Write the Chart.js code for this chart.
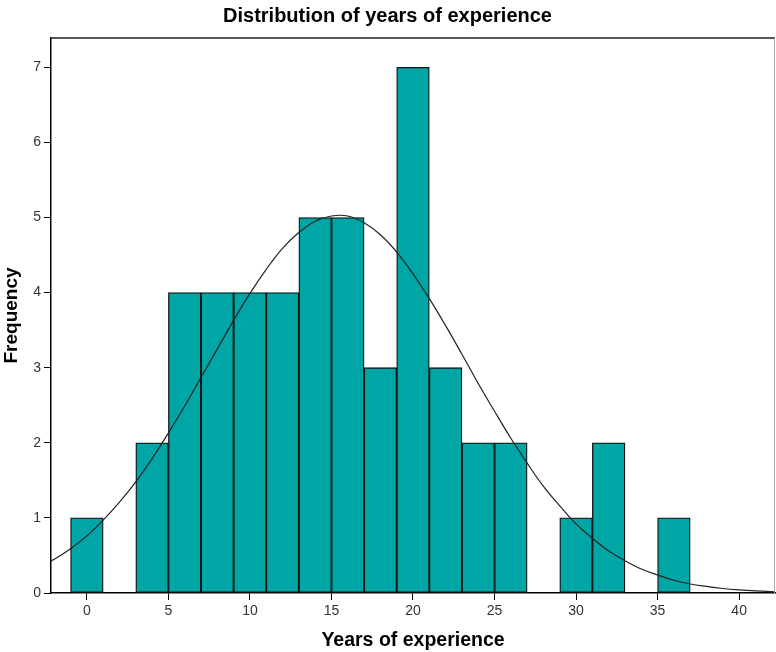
<!DOCTYPE html>
<html>
<head>
<meta charset="utf-8">
<script src="https://cdn.jsdelivr.net/npm/chart.js@4"></script>
<style>
  body { margin: 0; background: #fff; }
  canvas { display: block; }
</style>
</head>
<body>
<canvas id="grafico" width="776" height="652"></canvas>
<script>
// bin centres (width 2) and counts
const binCenters = [0, 2, 4, 6, 8, 10, 12, 14, 16, 18, 20, 22, 24, 26, 28, 30, 32, 34, 36];
const frequencies = [1, 0, 2, 4, 4, 4, 4, 5, 5, 3, 7, 3, 2, 2, 0, 1, 2, 0, 1];

// normal curve
const curveX = [-3, -2, -1, 0, 1, 2, 3, 4, 5, 6, 7, 8, 9, 10, 11, 12, 13, 14, 15, 16, 17, 18, 19, 20, 21,
  22, 23, 24, 25, 26, 27, 28, 29, 30, 31, 32, 33, 34, 35, 36, 37, 38, 39, 40, 41, 42, 43];
const curveY = [0.34, 0.45, 0.59, 0.76, 0.97, 1.21, 1.48, 1.79, 2.13, 2.49, 2.87, 3.25, 3.63, 3.99, 4.31, 4.59,
  4.80, 4.95, 5.02, 5.02, 4.93, 4.77, 4.54, 4.25, 3.92, 3.56, 3.18, 2.79, 2.42, 2.06, 1.73, 1.42, 1.16, 0.92,
  0.73, 0.56, 0.43, 0.32, 0.24, 0.17, 0.12, 0.087, 0.06, 0.041, 0.027, 0.018, 0.012];

const xTicks = [0, 5, 10, 15, 20, 25, 30, 35, 40];
const yTicks = [0, 1, 2, 3, 4, 5, 6, 7];

const marco = {
  id: "marco",
  afterDraw(chart) {
    const { ctx, chartArea: a } = chart;
    ctx.save();
    ctx.lineWidth = 1.5;
    ctx.strokeStyle = "#222";
    ctx.beginPath();
    ctx.moveTo(a.left, a.top);
    ctx.lineTo(a.right, a.top);
    ctx.stroke();
    ctx.lineWidth = 1;
    ctx.strokeStyle = "#aaa";
    ctx.beginPath();
    ctx.moveTo(a.right - 0.5, a.top);
    ctx.lineTo(a.right - 0.5, a.bottom);
    ctx.stroke();
    ctx.restore();
  }
};

Chart.defaults.font.family = "'Liberation Sans', Arial, sans-serif";
Chart.defaults.color = "#222";

new Chart(document.getElementById("grafico"), {
  type: "bar",
  data: {
    datasets: [
      {
        type: "line",
        label: "Normal",
        data: curveX.map((x, i) => ({ x: x, y: curveY[i] })),
        borderColor: "#222",
        borderWidth: 1.2,
        pointRadius: 0,
        tension: 0.4,
        order: 0
      },
      {
        type: "bar",
        label: "Frequency",
        data: binCenters.map((x, i) => ({ x: x, y: frequencies[i] })),
        backgroundColor: "#00a6a6",
        borderColor: "#111",
        borderWidth: 1.3,
        borderSkipped: false,
        barPercentage: 1,
        categoryPercentage: 1,
        order: 1
      }
    ]
  },
  options: {
    responsive: false,
    animation: false,
    layout: { padding: { left: 0, right: 1, top: 0, bottom: 0 } },
    plugins: {
      legend: { display: false },
      tooltip: { enabled: false },
      title: {
        display: true,
        text: "Distribution of years of experience",
        color: "#000",
        font: { size: 20, weight: "bold" },
        padding: { top: 4, bottom: 10 }
      }
    },
    scales: {
      x: {
        type: "linear",
        min: -2.2,
        max: 42.2,
        offset: false,
        grid: { display: true, drawOnChartArea: false, drawTicks: true, tickLength: 7, color: "#000", offset: false },
        border: { display: true, color: "#000", width: 1.5 },
        afterBuildTicks: s => { s.ticks = xTicks.map(v => ({ value: v })); },
        ticks: { padding: 3, font: { size: 14 }, color: "#333" },
        title: {
          display: true,
          text: "Years of experience",
          color: "#000",
          font: { size: 19.5, weight: "bold" },
          padding: { top: 2, bottom: 0 }
        },
        afterFit: s => { s.height = 59; }
      },
      y: {
        min: 0,
        max: 7.39,
        grid: { display: true, drawOnChartArea: false, drawTicks: true, tickLength: 7, color: "#000" },
        border: { display: true, color: "#000", width: 1.5 },
        afterBuildTicks: s => { s.ticks = yTicks.map(v => ({ value: v })); },
        ticks: { padding: 3, font: { size: 14 }, color: "#333" },
        title: {
          display: true,
          text: "Frequency",
          color: "#000",
          font: { size: 19, weight: "bold" },
          padding: { top: 0, bottom: 0 }
        },
        afterFit: s => { s.width = 51; }
      }
    }
  },
  plugins: [marco]
});
</script>
</body>
</html>
